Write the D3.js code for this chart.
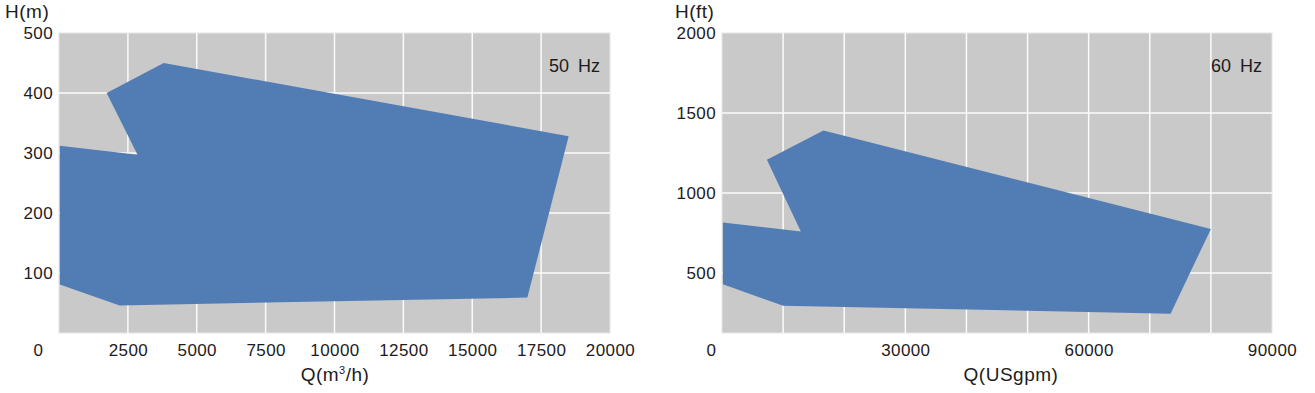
<!DOCTYPE html>
<html>
<head>
<meta charset="utf-8">
<script src="https://cdnjs.cloudflare.com/ajax/libs/d3/7.8.5/d3.min.js"></script>
<style>
  body { margin: 0; background: #fff; }
  svg text { font-family: "Liberation Sans", Arial, sans-serif; fill: #1e1b1c; }
</style>
</head>
<body>
<svg id="canvas" width="1315" height="393"></svg>
<script>
// 50 Hz envelope, Q in m3/h, H in m
var POLY_50 = [
  [30, 312], [2850, 297], [1730, 400], [3800, 450],
  [18500, 328], [17000, 59], [2200, 46], [30, 81]
];
// 60 Hz envelope, Q in USgpm, H in ft
var POLY_60 = [
  [150, 815], [12900, 760], [7350, 1208], [16600, 1391],
  [80000, 775], [73400, 246], [10000, 296], [150, 429]
];

var X_GRID_50 = d3.range(0, 20001, 2500);
var Y_GRID_50 = [100, 200, 300, 400, 500];
var X_TICKS_50 = d3.range(0, 20001, 2500);
var Y_TICKS_50 = [100, 200, 300, 400, 500];

var X_GRID_60 = d3.range(0, 90001, 10000);
var Y_GRID_60 = [500, 1000, 1500, 2000];
var X_TICKS_60 = [0, 30000, 60000, 90000];
var Y_TICKS_60 = [500, 1000, 1500, 2000];

var canvas = d3.select('#canvas');

/**
 * Draws one operating range panel.
 */
function drawPanel(cfg) {
  var x = d3.scaleLinear().domain(cfg.xDomain).range([cfg.left, cfg.right]);
  var y = d3.scaleLinear().domain(cfg.yDomain).range([cfg.bottom, cfg.top]);

  var g = canvas.append('g');

  // Plot background
  g.append('rect')
    .attr('x', cfg.left)
    .attr('y', cfg.top)
    .attr('width', cfg.right - cfg.left)
    .attr('height', cfg.bottom - cfg.top)
    .attr('fill', '#c8c9c8')
    .attr('stroke', '#e6e6e6')
    .attr('stroke-width', 1);

  // Grid lines
  g.selectAll('.vgrid')
    .data(cfg.xGrid.slice(1, -1))
    .enter()
    .append('line')
    .attr('x1', function (d) { return x(d); })
    .attr('x2', function (d) { return x(d); })
    .attr('y1', cfg.top)
    .attr('y2', cfg.bottom)
    .attr('stroke', '#fbfbfb')
    .attr('stroke-width', 1.5);

  g.selectAll('.hgrid')
    .data(cfg.yGrid.filter(function (d) { return d < cfg.yDomain[1]; }))
    .enter()
    .append('line')
    .attr('x1', cfg.left)
    .attr('x2', cfg.right)
    .attr('y1', function (d) { return y(d); })
    .attr('y2', function (d) { return y(d); })
    .attr('stroke', '#fbfbfb')
    .attr('stroke-width', 1.5);

  // Envelope
  g.append('path')
    .datum(cfg.poly)
    .attr('d', d3.line()
      .x(function (d) { return x(d[0]); })
      .y(function (d) { return y(d[1]); })
      .curve(d3.curveLinearClosed))
    .attr('fill', '#527cb4');

  // Axes
  var xAxis = g.append('g')
    .attr('transform', 'translate(0,' + (cfg.bottom + 8) + ')')
    .call(d3.axisBottom(x).tickValues(cfg.xTicks).tickSize(0).tickFormat(d3.format('d')));
  xAxis.select('.domain').remove();
  xAxis.selectAll('text')
    .attr('dy', '0.71em')
    .style('font-size', '17px')
    .style('letter-spacing', '0.4px')
    .attr('fill', '#1e1b1c')
    .attr('dx', function (d) { return d === 0 ? cfg.zeroDx : 0; });

  var yAxis = g.append('g')
    .attr('transform', 'translate(' + (cfg.left - 6) + ',0)')
    .call(d3.axisLeft(y).tickValues(cfg.yTicks).tickSize(0).tickPadding(0).tickFormat(d3.format('d')));
  yAxis.select('.domain').remove();
  yAxis.selectAll('text')
    .style('font-size', '17px')
    .style('letter-spacing', '0.4px')
    .attr('fill', '#1e1b1c');

  // Titles
  g.append('text')
    .attr('x', cfg.hTitleX)
    .attr('y', 18)
    .style('font-size', '19px')
    .style('letter-spacing', '0.5px')
    .text(cfg.hTitle);

  var qt = g.append('text')
    .attr('x', cfg.qTitleX)
    .attr('y', 381)
    .attr('text-anchor', 'middle')
    .style('font-size', '19px')
    .style('letter-spacing', '0.5px');
  cfg.qTitle.forEach(function (part) {
    var ts = qt.append('tspan').text(part.t);
    if (part.sup) {
      ts.attr('dy', '-7').style('font-size', '11px');
    } else if (part.down) {
      ts.attr('dy', '7');
    }
  });

  g.append('text')
    .attr('x', cfg.right - 10)
    .attr('y', 72)
    .attr('text-anchor', 'end')
    .style('font-size', '18px')
    .style('word-spacing', '4px')
    .text(cfg.freq);
}

drawPanel({
  poly: POLY_50,
  xDomain: [0, 20000], yDomain: [0, 500],
  left: 59, right: 610, top: 33, bottom: 333,
  xGrid: X_GRID_50, yGrid: Y_GRID_50,
  xTicks: X_TICKS_50, yTicks: Y_TICKS_50,
  zeroDx: -21,
  hTitle: 'H(m)', hTitleX: 5,
  qTitle: [{ t: 'Q(m' }, { t: '3', sup: true }, { t: '/h)', down: true }], qTitleX: 335,
  freq: '50 Hz'
});

drawPanel({
  poly: POLY_60,
  xDomain: [0, 90000], yDomain: [125, 2000],
  left: 722, right: 1272, top: 33, bottom: 333,
  xGrid: X_GRID_60, yGrid: Y_GRID_60,
  xTicks: X_TICKS_60, yTicks: Y_TICKS_60,
  zeroDx: -11,
  hTitle: 'H(ft)', hTitleX: 675,
  qTitle: [{ t: 'Q(USgpm)' }], qTitleX: 1011,
  freq: '60 Hz'
});
</script>
</body>
</html>
